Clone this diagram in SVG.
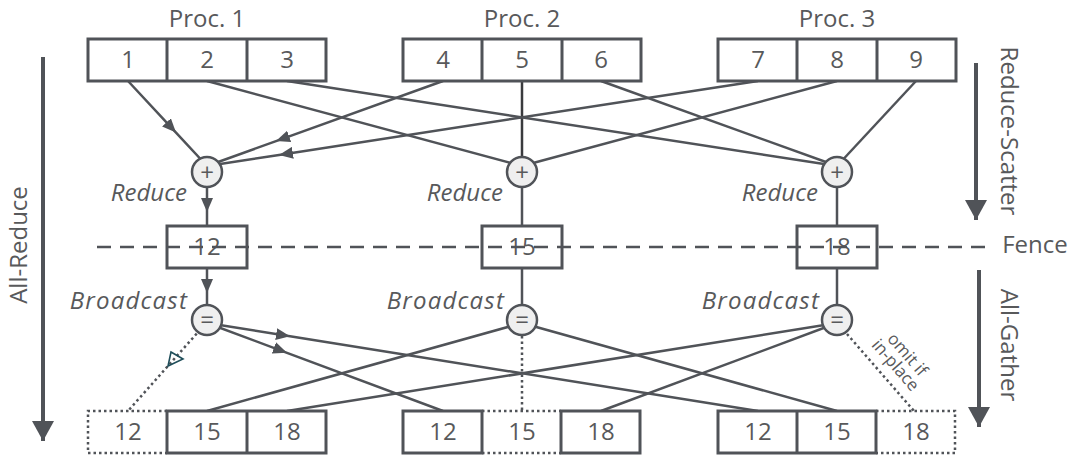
<svg xmlns="http://www.w3.org/2000/svg" width="1070" height="457" viewBox="0 0 1070 457">
  <style>
    .ln { stroke:#505358; stroke-width:2.5; fill:none; }
    .dk { stroke:#3a3b3e; stroke-width:2.5; fill:none; }
    .dot { stroke:#505358; stroke-width:2.5; stroke-dasharray:2.5 3; fill:none; }
    .box { fill:#ffffff; stroke:#505358; stroke-width:3; }
    .div { stroke:#505358; stroke-width:3; fill:none; }
    .op { fill:#efefef; stroke:#505358; stroke-width:2.5; }
    .big { stroke:#505358; stroke-width:4; fill:none; }
    .fence { stroke:#505358; stroke-width:2.5; stroke-dasharray:14 9; fill:none; }
    .t { font-family:"Open Sans","Liberation Sans",sans-serif; font-size:24px; fill:#58595b; text-anchor:middle; }
    .it { font-style:italic; text-anchor:end; }
    .wide { letter-spacing:1.2px; }
    .sym { font-size:24px; }
    .note { font-size:17px; }
  </style>
  <defs>
    <marker id="ah" viewBox="0 0 14 12" refX="14" refY="6" markerWidth="14" markerHeight="12" markerUnits="userSpaceOnUse" orient="auto">
      <path d="M0,0 L14,6 L0,12 z" fill="#505358"/>
    </marker>
    <marker id="bigah" viewBox="0 0 22 20" refX="11" refY="20" markerWidth="22" markerHeight="20" markerUnits="userSpaceOnUse" orient="0">
      <path d="M0,0 L22,0 L11,20 z" fill="#505358"/>
    </marker>
  </defs>

  <!-- connectors -->
  <g id="connectors">
    <!-- reduce stage: every element goes to the reducer of its index -->
    <path class="ln" d="M128,81 L176,132.6 L207,166" marker-mid="url(#ah)"/>
    <path class="ln" d="M443,81 L276,141.1 L207,166" marker-mid="url(#ah)"/>
    <path class="ln" d="M758,81 L279,154.9 L207,166" marker-mid="url(#ah)"/>
    <path class="ln" d="M207,81 L522,166"/>
    <path class="dk" d="M522,81 L522,160"/>
    <path class="ln" d="M837,81 L522,166"/>
    <path class="ln" d="M287,81 L837,166"/>
    <path class="ln" d="M601,81 L837,166"/>
    <path class="ln" d="M916,81 L837,166"/>
    <!-- reducer to result -->
    <path class="ln" d="M207,187 L207,212 L207,226" marker-mid="url(#ah)"/>
    <path class="ln" d="M522,187 L522,226"/>
    <path class="ln" d="M837,187 L837,226"/>
    <!-- result to broadcaster -->
    <path class="ln" d="M207,268 L207,293 L207,306" marker-mid="url(#ah)"/>
    <path class="ln" d="M522,268 L522,306"/>
    <path class="ln" d="M837,268 L837,306"/>
    <!-- broadcast stage -->
    <path class="ln" d="M207,323 L290,336.3 L758,411" marker-mid="url(#ah)"/>
    <path class="ln" d="M207,323 L287,352.8 L443,411" marker-mid="url(#ah)"/>
    <path class="dot" d="M196.7,333.6 L128,411"/>
    <polygon points="171,352 183,359 168,366" fill="none" stroke="#1f4e5a" stroke-width="1.6"/>
    <path class="ln" d="M522,323 L207,411"/>
    <path class="dot" d="M522,336 L522,411"/>
    <path class="ln" d="M522,323 L837,411"/>
    <path class="ln" d="M837,323 L287,411"/>
    <path class="ln" d="M837,323 L601,411"/>
    <path class="dot" d="M847,334 L914,411"/>
  </g>

  <!-- process 1 inputs -->
  <g id="proc1">
    <text class="t" x="207" y="27">Proc. 1</text>
    <rect class="box" x="88" y="39" width="238" height="42"/>
    <path class="div" d="M167,39 V81 M247,39 V81"/>
    <text class="t" x="128" y="68">1</text>
    <text class="t" x="207" y="68">2</text>
    <text class="t" x="287" y="68">3</text>
  </g>

  <!-- process 2 inputs -->
  <g id="proc2">
    <text class="t" x="522" y="27">Proc. 2</text>
    <rect class="box" x="403" y="39" width="238" height="42"/>
    <path class="div" d="M482,39 V81 M562,39 V81"/>
    <text class="t" x="443" y="68">4</text>
    <text class="t" x="522" y="68">5</text>
    <text class="t" x="601" y="68">6</text>
  </g>

  <!-- process 3 inputs -->
  <g id="proc3">
    <text class="t" x="837" y="27">Proc. 3</text>
    <rect class="box" x="718" y="39" width="238" height="42"/>
    <path class="div" d="M797,39 V81 M877,39 V81"/>
    <text class="t" x="758" y="68">7</text>
    <text class="t" x="837" y="68">8</text>
    <text class="t" x="916" y="68">9</text>
  </g>

  <!-- reducers -->
  <g id="reduce1">
    <circle class="op" cx="207" cy="172" r="15"/>
    <text class="t sym" x="207" y="180.5">+</text>
    <text class="t it" x="187" y="201">Reduce</text>
  </g>
  <g id="reduce2">
    <circle class="op" cx="522" cy="172" r="15"/>
    <text class="t sym" x="522" y="180.5">+</text>
    <text class="t it" x="503" y="201">Reduce</text>
  </g>
  <g id="reduce3">
    <circle class="op" cx="837" cy="172" r="15"/>
    <text class="t sym" x="837" y="180.5">+</text>
    <text class="t it" x="818" y="201">Reduce</text>
  </g>

  <!-- reduced results -->
  <g id="result1">
    <rect class="box" x="167" y="226" width="80" height="42"/>
    <text class="t" x="207" y="255">12</text>
  </g>
  <g id="result2">
    <rect class="box" x="482" y="226" width="80" height="42"/>
    <text class="t" x="522" y="255">15</text>
  </g>
  <g id="result3">
    <rect class="box" x="797" y="226" width="80" height="42"/>
    <text class="t" x="837" y="255">18</text>
  </g>

  <!-- fence -->
  <g id="fence">
    <path class="fence" d="M97,247 H990"/>
    <text class="t" x="1035" y="253">Fence</text>
  </g>

  <!-- broadcasters -->
  <g id="bcast1">
    <circle class="op" cx="207" cy="320" r="15"/>
    <text class="t sym" x="207" y="328">=</text>
    <text class="t it wide" x="188" y="309">Broadcast</text>
  </g>
  <g id="bcast2">
    <circle class="op" cx="522" cy="320" r="15"/>
    <text class="t sym" x="522" y="328">=</text>
    <text class="t it wide" x="505" y="309">Broadcast</text>
  </g>
  <g id="bcast3">
    <circle class="op" cx="837" cy="320" r="15"/>
    <text class="t sym" x="837" y="328">=</text>
    <text class="t it wide" x="820" y="309">Broadcast</text>
  </g>

  <!-- gathered outputs -->
  <g id="out1">
    <path class="dot" d="M167,411 H88 V453 H167"/>
    <rect class="box" x="167" y="411" width="159" height="42"/>
    <path class="div" d="M247,411 V453"/>
    <text class="t" x="128" y="440">12</text>
    <text class="t" x="207" y="440">15</text>
    <text class="t" x="287" y="440">18</text>
  </g>
  <g id="out2">
    <path class="dot" d="M482,411 H561 M482,453 H561"/>
    <rect class="box" x="403" y="411" width="79" height="42"/>
    <rect class="box" x="561" y="411" width="79" height="42"/>
    <text class="t" x="443" y="440">12</text>
    <text class="t" x="522" y="440">15</text>
    <text class="t" x="601" y="440">18</text>
  </g>
  <g id="out3">
    <path class="dot" d="M876,411 H955 V453 H876"/>
    <rect class="box" x="718" y="411" width="158" height="42"/>
    <path class="div" d="M797,411 V453"/>
    <text class="t" x="758" y="440">12</text>
    <text class="t" x="837" y="440">15</text>
    <text class="t" x="916" y="440">18</text>
  </g>

  <!-- in-place note -->
  <g id="note" transform="translate(907,355) rotate(49)">
    <text class="t note" x="0" y="5">omit if</text>
    <text class="t note" x="0" y="21">in-place</text>
  </g>

  <!-- phase arrows -->
  <g id="phase-allreduce">
    <path class="big" d="M43,57 V441" marker-end="url(#bigah)"/>
    <text class="t" transform="translate(27,245) rotate(-90)">All-Reduce</text>
  </g>
  <g id="phase-reducescatter">
    <path class="big" d="M976,63 V220" marker-end="url(#bigah)"/>
    <text class="t" transform="translate(1001,131) rotate(90)">Reduce-Scatter</text>
  </g>
  <g id="phase-allgather">
    <path class="big" d="M979,270 V427" marker-end="url(#bigah)"/>
    <text class="t" transform="translate(1001,345) rotate(90)">All-Gather</text>
  </g>
</svg>
